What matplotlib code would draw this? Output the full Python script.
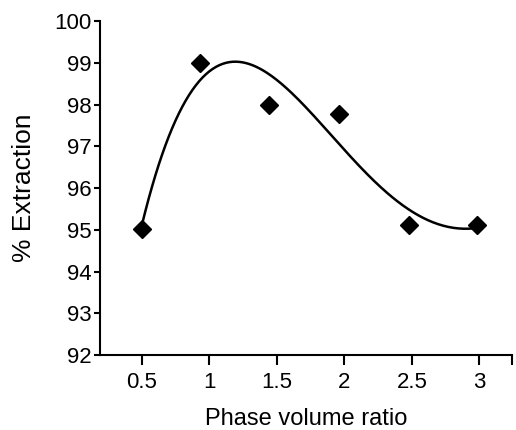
import numpy as np
import matplotlib
matplotlib.use("Agg")
import matplotlib.pyplot as plt

plt.rcParams['font.family'] = ['Liberation Sans', 'DejaVu Sans']

# measured points
phaseRatio = [0.5, 0.93, 1.44, 1.96, 2.48, 2.98]
extraction = [95.02, 99.0, 97.98, 97.78, 95.12, 95.12]

xTicks = [0.5, 1, 1.5, 2, 2.5, 3]
xTickLabels = ["0.5", "1", "1.5", "2", "2.5", "3"]
yTicks = [92, 93, 94, 95, 96, 97, 98, 99, 100]

# smooth trend line through the points (polynomial fit)
coeffs = np.polyfit(phaseRatio, extraction, 4)
xs = np.linspace(phaseRatio[0], phaseRatio[-1], 200)
ys = np.polyval(coeffs, xs)

fig = plt.figure(figsize=(5.16, 4.30), dpi=100)
ax = fig.add_axes([0.194, 0.174, 0.798, 0.777])

ax.plot(xs, ys, color="black", linewidth=1.8)
ax.plot(phaseRatio, extraction, linestyle="none", marker="D",
        markersize=9.5, color="black")

ax.set_xlim(0.19, 3.24)
ax.set_ylim(92, 100)
ax.set_xticks(xTicks)
ax.set_xticklabels(xTickLabels)
ax.set_xticks([3.24], minor=True)
ax.set_yticks(yTicks)

ax.spines["top"].set_visible(False)
ax.spines["right"].set_visible(False)
ax.spines["left"].set_linewidth(1.5)
ax.spines["bottom"].set_linewidth(1.5)
ax.tick_params(axis="x", which="both", direction="out", length=7, width=1.5, pad=5, labelsize=16)
ax.tick_params(axis="y", direction="out", length=4, width=1.5, pad=2, labelsize=16)

ax.set_xlabel("Phase volume ratio", fontsize=17, labelpad=11)
ax.set_ylabel("% Extraction", fontsize=19, labelpad=13)

plt.savefig("out.png", dpi=100)
plt.close(fig)
